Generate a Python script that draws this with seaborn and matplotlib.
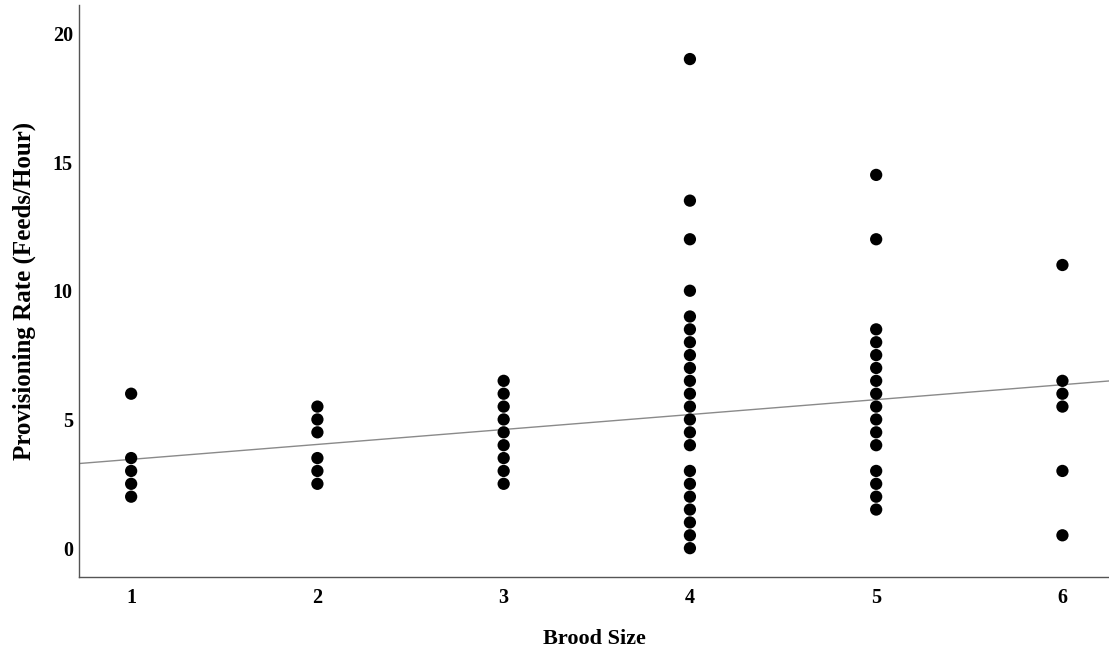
import matplotlib
matplotlib.use("Agg")
import matplotlib.pyplot as plt
import seaborn as sns
import numpy as np
import pandas as pd

# Data
brood_sizes = [1, 2, 3, 4, 5, 6]
rates_1 = [6, 3.5, 3, 2.5, 2]
rates_2 = [5.5, 5, 4.5, 3.5, 3, 2.5]
rates_3 = [6.5, 6, 5.5, 5, 4.5, 4, 3.5, 3, 2.5]
rates_4 = [19, 13.5, 12, 10, 9, 8.5, 8, 7.5, 7, 6.5, 6, 5.5, 5, 4.5, 4,
           3, 2.5, 2, 1.5, 1, 0.5, 0]
rates_5 = [14.5, 12, 8.5, 8, 7.5, 7, 6.5, 6, 5.5, 5, 4.5, 4, 3, 2.5, 2, 1.5]
rates_6 = [11, 6.5, 6, 5.5, 3, 0.5]
# Fit line (total population)
fit_intercept = 2.87
fit_slope = 0.58

x_ticks = [1, 2, 3, 4, 5, 6]
y_ticks = [0, 5, 10, 15, 20]

all_rates = [rates_1, rates_2, rates_3, rates_4, rates_5, rates_6]
df = pd.DataFrame({
    "Brood Size": np.concatenate([[b] * len(r) for b, r in zip(brood_sizes, all_rates)]),
    "Rate": np.concatenate(all_rates),
})

sns.set_theme(style="white")
plt.rcParams["font.family"] = ["Liberation Serif", "DejaVu Serif"]

fig = plt.figure(figsize=(11.09, 6.55), dpi=100)
ax = fig.add_axes([79 / 1109, 78 / 655, 1 - 79 / 1109, (577 - 5) / 655])

sns.scatterplot(data=df, x="Brood Size", y="Rate", ax=ax, color="black",
                s=78, edgecolor="none", linewidth=0, zorder=3)

ax.axline((0, fit_intercept), slope=fit_slope, color="#8a8a8a", lw=1.0, zorder=2)

ax.set_xlim(0.72, 6.25)
ax.set_ylim(-1.12, 21.1)
ax.set_xticks(x_ticks)
ax.set_yticks(y_ticks)
ax.set_xticklabels([str(t) for t in x_ticks], fontsize=14.5, fontweight="bold")
ax.set_yticklabels([str(t) for t in y_ticks], fontsize=14.5, fontweight="bold")
ax.tick_params(axis="x", length=0, pad=8, colors="black")
ax.tick_params(axis="y", length=0, pad=4.5, colors="black")

ax.set_xlabel("Brood Size", fontsize=16, fontweight="bold", labelpad=15, color="black")
ax.set_ylabel("Provisioning Rate (Feeds/Hour)", fontsize=18, fontweight="bold",
              labelpad=12, color="black")

for side in ["top", "right"]:
    ax.spines[side].set_visible(False)
for side in ["left", "bottom"]:
    ax.spines[side].set_color("#555555")
    ax.spines[side].set_linewidth(1.0)

fig.savefig("out.png", dpi=100)
